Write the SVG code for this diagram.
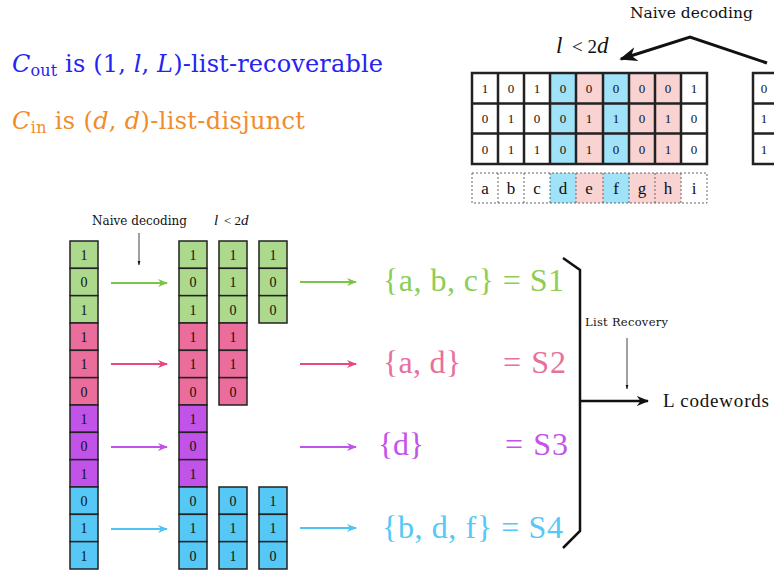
<svg xmlns="http://www.w3.org/2000/svg" width="774" height="573" viewBox="0 0 774 573">
<style>
.serif{font-family:"Liberation Serif","DejaVu Serif",serif}
.dserif{font-family:"DejaVu Serif","Liberation Serif",serif}
.cell{stroke:#222;stroke-width:1.5}
.g{fill:#acd98b}.p{fill:#ea6d9b}.v{fill:#c253e9}.b{fill:#56c8f6}
.ct{font-family:"Liberation Serif","DejaVu Serif",serif;font-size:14px;fill:#111;text-anchor:middle}
.tbb{fill:#a0e2f8}.tbp{fill:#f9d3d2}
.tt{font-family:"Liberation Serif","DejaVu Serif",serif;font-size:13px;fill:#111;text-anchor:middle}
.lbl{font-family:"Liberation Serif","DejaVu Serif",serif;font-size:17px;fill:#111;text-anchor:middle}
.set{font-family:"Liberation Serif","DejaVu Serif",serif;font-size:32px}
</style>
<defs>
<marker id="ag" viewBox="0 0 10 10" refX="9" refY="5" markerWidth="5" markerHeight="5" orient="auto"><path d="M0,1 L10,5 L0,9 L3,5 Z" fill="#7cc447"/></marker>
<marker id="ap" viewBox="0 0 10 10" refX="9" refY="5" markerWidth="5" markerHeight="5" orient="auto"><path d="M0,1 L10,5 L0,9 L3,5 Z" fill="#e8497f"/></marker>
<marker id="av" viewBox="0 0 10 10" refX="9" refY="5" markerWidth="5" markerHeight="5" orient="auto"><path d="M0,1 L10,5 L0,9 L3,5 Z" fill="#c053ea"/></marker>
<marker id="ab" viewBox="0 0 10 10" refX="9" refY="5" markerWidth="5" markerHeight="5" orient="auto"><path d="M0,1 L10,5 L0,9 L3,5 Z" fill="#4fc3f2"/></marker>
<marker id="ak" viewBox="0 0 10 10" refX="9" refY="5" markerWidth="5" markerHeight="5" orient="auto"><path d="M0,1 L10,5 L0,9 L3,5 Z" fill="#111"/></marker>
<marker id="ak2" viewBox="0 0 10 10" refX="9" refY="5" markerWidth="6" markerHeight="6" orient="auto"><path d="M0,1 L10,5 L0,9 L3,5 Z" fill="#111"/></marker>
<marker id="as" viewBox="0 0 10 10" refX="9" refY="5" markerWidth="6" markerHeight="6" orient="auto"><path d="M0,2 L10,5 L0,8 Z" fill="#111"/></marker>
</defs>

<g id="headline">
<text x="12" y="72" class="dserif" font-size="24" fill="#2424f2" textLength="371" lengthAdjust="spacing"><tspan font-style="italic">C</tspan><tspan font-size="16" dy="4">out</tspan><tspan dy="-4"> is (1, </tspan><tspan font-style="italic">l</tspan><tspan>, </tspan><tspan font-style="italic">L</tspan><tspan>)-list-recoverable</tspan></text>
<text x="12" y="129" class="dserif" font-size="24" fill="#f28c28" textLength="293" lengthAdjust="spacing"><tspan font-style="italic">C</tspan><tspan font-size="16" dy="4">in</tspan><tspan dy="-4"> is (</tspan><tspan font-style="italic">d</tspan><tspan>, </tspan><tspan font-style="italic">d</tspan><tspan>)-list-disjunct</tspan></text>
</g>

<g id="top-table">
<text x="630" y="18" class="dserif" font-size="15.5" fill="#111" textLength="123" lengthAdjust="spacing">Naive decoding</text>
<text x="556" y="53" class="serif" font-size="23" font-style="italic" fill="#111">l</text>
<text x="572" y="53" class="serif" font-size="19" fill="#111">&lt; 2<tspan font-style="italic" font-size="23">d</tspan></text>
<path d="M767,63 L690,37 L621,59" fill="none" stroke="#111" stroke-width="3" marker-end="url(#ak2)"/>
<rect x="472" y="73" width="235" height="91" fill="#fff"/>
<rect x="550" y="73" width="26" height="91" class="tbb"/>
<rect x="603" y="73" width="26" height="91" class="tbb"/>
<rect x="576" y="73" width="27" height="91" class="tbp"/>
<rect x="629" y="73" width="52" height="91" class="tbp"/>
<g fill="none" stroke="#222" stroke-width="2.5">
<rect x="472" y="73" width="235" height="91"/>
<path d="M472,103.5H707M472,133.5H707M498,73V164M524,73V164M550,73V164M576,73V164M603,73V164M629,73V164M655,73V164M681,73V164"/>
</g>
<g class="tt">
<text x="485" y="93">1</text><text x="511" y="93">0</text><text x="537" y="93">1</text><text x="563" y="93">0</text><text x="589" y="93">0</text><text x="616" y="93">0</text><text x="642" y="93">0</text><text x="668" y="93">0</text><text x="694" y="93">1</text>
<text x="485" y="123">0</text><text x="511" y="123">1</text><text x="537" y="123">0</text><text x="563" y="123">0</text><text x="589" y="123">1</text><text x="616" y="123">1</text><text x="642" y="123">0</text><text x="668" y="123">1</text><text x="694" y="123">0</text>
<text x="485" y="154">0</text><text x="511" y="154">1</text><text x="537" y="154">1</text><text x="563" y="154">0</text><text x="589" y="154">1</text><text x="616" y="154">0</text><text x="642" y="154">0</text><text x="668" y="154">1</text><text x="694" y="154">0</text>
</g>
<rect x="550" y="173" width="26" height="30" class="tbb"/>
<rect x="603" y="173" width="26" height="30" class="tbb"/>
<rect x="576" y="173" width="27" height="30" class="tbp"/>
<rect x="629" y="173" width="52" height="30" class="tbp"/>
<g fill="none" stroke="#666" stroke-width="1" stroke-dasharray="2,2">
<rect x="472" y="173" width="235" height="30"/>
<path d="M498,173V203M524,173V203M550,173V203M576,173V203M603,173V203M629,173V203M655,173V203M681,173V203"/>
</g>
<g class="lbl">
<text x="485" y="194">a</text><text x="511" y="194">b</text><text x="537" y="194">c</text><text x="563" y="194">d</text><text x="589" y="194">e</text><text x="616" y="194">f</text><text x="642" y="194">g</text><text x="668" y="194">h</text><text x="694" y="194">i</text>
</g>
<rect x="753" y="73" width="30" height="91" fill="#fff" stroke="#222" stroke-width="2.5"/>
<path d="M753,103.5H774M753,133.5H774" stroke="#222" stroke-width="2.5"/>
<g class="tt"><text x="764" y="93">0</text><text x="764" y="123">1</text><text x="764" y="154">1</text></g>
</g>

<g id="col-input">
<rect class="cell g" x="70" y="241" width="28" height="27.33"/><text class="ct" x="84" y="260">1</text>
<rect class="cell g" x="70" y="268.33" width="28" height="27.33"/><text class="ct" x="84" y="287">0</text>
<rect class="cell g" x="70" y="295.67" width="28" height="27.33"/><text class="ct" x="84" y="315">1</text>
<rect class="cell p" x="70" y="323" width="28" height="27.33"/><text class="ct" x="84" y="342">1</text>
<rect class="cell p" x="70" y="350.33" width="28" height="27.33"/><text class="ct" x="84" y="369">1</text>
<rect class="cell p" x="70" y="377.67" width="28" height="27.33"/><text class="ct" x="84" y="397">0</text>
<rect class="cell v" x="70" y="405" width="28" height="27.33"/><text class="ct" x="84" y="424">1</text>
<rect class="cell v" x="70" y="432.33" width="28" height="27.33"/><text class="ct" x="84" y="451">0</text>
<rect class="cell v" x="70" y="459.67" width="28" height="27.33"/><text class="ct" x="84" y="479">1</text>
<rect class="cell b" x="70" y="487" width="28" height="27.33"/><text class="ct" x="84" y="506">0</text>
<rect class="cell b" x="70" y="514.33" width="28" height="27.33"/><text class="ct" x="84" y="533">1</text>
<rect class="cell b" x="70" y="541.67" width="28" height="27.33"/><text class="ct" x="84" y="561">1</text>
</g>

<g id="col-decoded-1">
<rect class="cell g" x="179" y="241" width="28" height="27.33"/><text class="ct" x="193" y="260">1</text>
<rect class="cell g" x="179" y="268.33" width="28" height="27.33"/><text class="ct" x="193" y="287">0</text>
<rect class="cell g" x="179" y="295.67" width="28" height="27.33"/><text class="ct" x="193" y="315">1</text>
<rect class="cell p" x="179" y="323" width="28" height="27.33"/><text class="ct" x="193" y="342">1</text>
<rect class="cell p" x="179" y="350.33" width="28" height="27.33"/><text class="ct" x="193" y="369">1</text>
<rect class="cell p" x="179" y="377.67" width="28" height="27.33"/><text class="ct" x="193" y="397">0</text>
<rect class="cell v" x="179" y="405" width="28" height="27.33"/><text class="ct" x="193" y="424">1</text>
<rect class="cell v" x="179" y="432.33" width="28" height="27.33"/><text class="ct" x="193" y="451">0</text>
<rect class="cell v" x="179" y="459.67" width="28" height="27.33"/><text class="ct" x="193" y="479">1</text>
<rect class="cell b" x="179" y="487" width="28" height="27.33"/><text class="ct" x="193" y="506">0</text>
<rect class="cell b" x="179" y="514.33" width="28" height="27.33"/><text class="ct" x="193" y="533">1</text>
<rect class="cell b" x="179" y="541.67" width="28" height="27.33"/><text class="ct" x="193" y="561">0</text>
</g>

<g id="col-decoded-2">
<rect class="cell g" x="219" y="241" width="28" height="27.33"/><text class="ct" x="233" y="260">1</text>
<rect class="cell g" x="219" y="268.33" width="28" height="27.33"/><text class="ct" x="233" y="287">1</text>
<rect class="cell g" x="219" y="295.67" width="28" height="27.33"/><text class="ct" x="233" y="315">0</text>
<rect class="cell p" x="219" y="323" width="28" height="27.33"/><text class="ct" x="233" y="342">1</text>
<rect class="cell p" x="219" y="350.33" width="28" height="27.33"/><text class="ct" x="233" y="369">1</text>
<rect class="cell p" x="219" y="377.67" width="28" height="27.33"/><text class="ct" x="233" y="397">0</text>
<rect class="cell b" x="219" y="487" width="28" height="27.33"/><text class="ct" x="233" y="506">0</text>
<rect class="cell b" x="219" y="514.33" width="28" height="27.33"/><text class="ct" x="233" y="533">1</text>
<rect class="cell b" x="219" y="541.67" width="28" height="27.33"/><text class="ct" x="233" y="561">1</text>
</g>

<g id="col-decoded-3">
<rect class="cell g" x="259" y="241" width="28" height="27.33"/><text class="ct" x="273" y="260">1</text>
<rect class="cell g" x="259" y="268.33" width="28" height="27.33"/><text class="ct" x="273" y="287">0</text>
<rect class="cell g" x="259" y="295.67" width="28" height="27.33"/><text class="ct" x="273" y="315">0</text>
<rect class="cell b" x="259" y="487" width="28" height="27.33"/><text class="ct" x="273" y="506">1</text>
<rect class="cell b" x="259" y="514.33" width="28" height="27.33"/><text class="ct" x="273" y="533">1</text>
<rect class="cell b" x="259" y="541.67" width="28" height="27.33"/><text class="ct" x="273" y="561">0</text>
</g>

<g id="labels-left">
<text x="92" y="225" class="dserif" font-size="12" fill="#111" textLength="95" lengthAdjust="spacing">Naive decoding</text>
<text x="214" y="225" class="serif" font-size="15" font-style="italic" fill="#111">l</text>
<text x="224" y="225" class="serif" font-size="13" fill="#111">&lt; 2<tspan font-style="italic" font-size="15">d</tspan></text>
</g>

<g id="sets">
<text x="383" y="291" class="set" fill="#8cce56" textLength="181" lengthAdjust="spacing">{a, b, c} = S1</text>
<text x="383" y="373" class="set" fill="#e8709b" textLength="78" lengthAdjust="spacing">{a, d}</text>
<text x="503" y="373" class="set" fill="#e8709b" textLength="63" lengthAdjust="spacing">= S2</text>
<text x="378" y="455" class="set" fill="#c353ea" textLength="46" lengthAdjust="spacing">{d}</text>
<text x="505" y="455" class="set" fill="#c353ea" textLength="63" lengthAdjust="spacing">= S3</text>
<text x="382" y="538" class="set" fill="#55c8f5" textLength="181" lengthAdjust="spacing">{b, d, f} = S4</text>
</g>

<g id="output">
<text x="585" y="326" class="dserif" font-size="11.5" fill="#111" textLength="83" lengthAdjust="spacing">List Recovery</text>
<text x="663" y="407" class="serif" font-size="19" fill="#111" textLength="106" lengthAdjust="spacing">L codewords</text>
</g>

<g id="connectors" fill="none">
<line x1="139" y1="233" x2="139" y2="265" stroke="#111" stroke-width="0.8" marker-end="url(#as)"/>
<line x1="111" y1="283" x2="167" y2="283" stroke="#7cc447" stroke-width="2" marker-end="url(#ag)"/>
<line x1="111" y1="364" x2="167" y2="364" stroke="#e8497f" stroke-width="2" marker-end="url(#ap)"/>
<line x1="111" y1="447" x2="167" y2="447" stroke="#c053ea" stroke-width="2" marker-end="url(#av)"/>
<line x1="111" y1="529" x2="167" y2="529" stroke="#4fc3f2" stroke-width="2" marker-end="url(#ab)"/>
<line x1="300" y1="282" x2="356" y2="282" stroke="#7cc447" stroke-width="2" marker-end="url(#ag)"/>
<line x1="300" y1="364" x2="356" y2="364" stroke="#e8497f" stroke-width="2" marker-end="url(#ap)"/>
<line x1="300" y1="447" x2="356" y2="447" stroke="#c053ea" stroke-width="2" marker-end="url(#av)"/>
<line x1="300" y1="528" x2="356" y2="528" stroke="#4fc3f2" stroke-width="2" marker-end="url(#ab)"/>
<path d="M563,258 L580,270 V531 L563,548" stroke="#111" stroke-width="2.5"/>
<line x1="580" y1="401" x2="648" y2="401" stroke="#111" stroke-width="2.5" marker-end="url(#ak)"/>
<line x1="627" y1="338" x2="627" y2="389" stroke="#111" stroke-width="0.8" marker-end="url(#as)"/>
</g>
</svg>
